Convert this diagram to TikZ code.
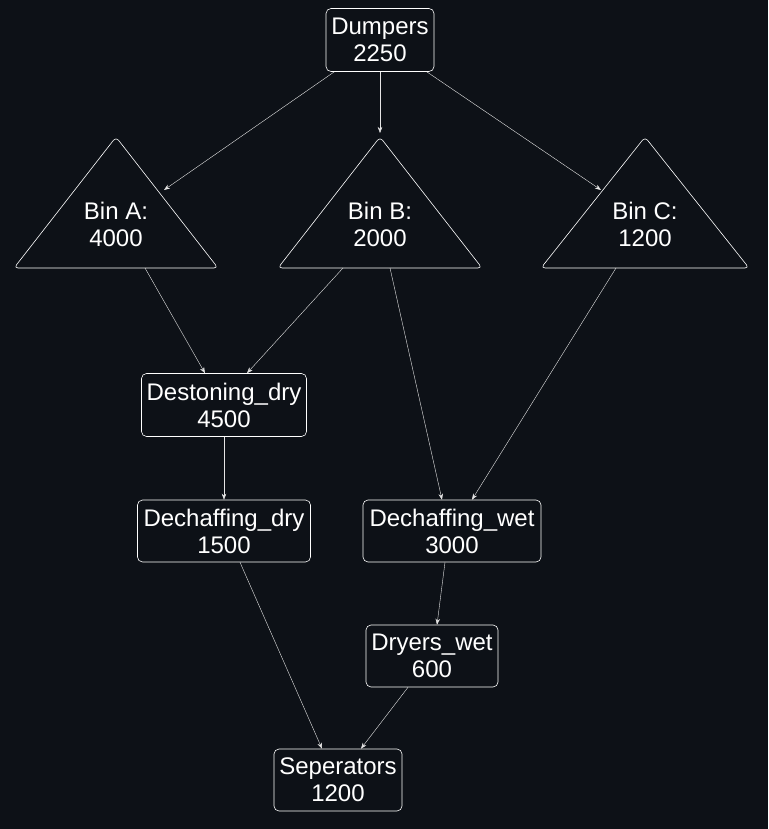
\documentclass[tikz,border=0pt]{standalone}
\usepackage{fontspec}
\setmainfont{Liberation Sans}
\usetikzlibrary{arrows.meta}
\definecolor{bgdark}{HTML}{0D1117}
\begin{document}
\begin{tikzpicture}[x=1pt,y=-1pt,>={Stealth[length=6pt,width=4.5pt]},
                    semithick]
  \tikzstyle{unit}=[draw=white,rounded corners=5pt,text=white,font=\fontsize{24}{27}\selectfont,
                    align=center,inner sep=0pt]
  \tikzstyle{bin}=[draw=white,rounded corners=4pt]
  \tikzstyle{flow}=[->,draw=white!90!black,thin]
  \fill[bgdark] (0,0) rectangle (768,829);

  \node[unit,minimum width=108pt,minimum height=63pt] (D)  at (380,40)  {Dumpers\\2250};
  \node[unit,minimum width=165pt,minimum height=63pt] (DS) at (224,405) {Destoning\_dry\\4500};
  \node[unit,minimum width=173pt,minimum height=62pt] (CD) at (224,531) {Dechaffing\_dry\\1500};
  \node[unit,minimum width=178pt,minimum height=62pt] (CW) at (452,531) {Dechaffing\_wet\\3000};
  \node[unit,minimum width=132pt,minimum height=62pt] (DW) at (432,656) {Dryers\_wet\\600};
  \node[unit,minimum width=128pt,minimum height=62pt] (S)  at (338,780) {Seperators\\1200};

  % bins
  \draw[bin] (116,137) -- (218,268) -- (14,268) -- cycle;
  \draw[bin] (380,137) -- (482,268) -- (278,268) -- cycle;
  \draw[bin] (645,137) -- (749,268) -- (541,268) -- cycle;
  \node[unit,draw=none] (BA) at (116,224) {Bin A:\\4000};
  \node[unit,draw=none] (BB) at (380,224) {Bin B:\\2000};
  \node[unit,draw=none] (BC) at (645,224) {Bin C:\\1200};
  \coordinate (BAin) at (164,190);
  \coordinate (BBin) at (380,133);
  \coordinate (BCin) at (601,190);
  \coordinate (BAout) at (145,268);
  \coordinate (BBout1) at (343,268);
  \coordinate (BBout2) at (390,268);
  \coordinate (BCout) at (616,268);

  \draw[flow] (D) -- (BAin);
  \draw[flow] (D) -- (BBin);
  \draw[flow] (D) -- (BCin);
  \draw[flow] (BAout) -- (DS.north -| 205,0);
  \draw[flow] (BBout1) -- (DS.north -| 247,0);
  \draw[flow] (BBout2) -- (CW.north -| 442,0);
  \draw[flow] (BCout) -- (CW.north -| 472,0);
  \draw[flow] (DS) -- (CD);
  \draw[flow] (CW.south -| 445,0) -- (DW.north -| 437,0);
  \draw[flow] (CD.south -| 240,0) -- (S.north -| 322,0);
  \draw[flow] (DW.south -| 408,0) -- (S.north -| 361,0);
\end{tikzpicture}
\end{document}
